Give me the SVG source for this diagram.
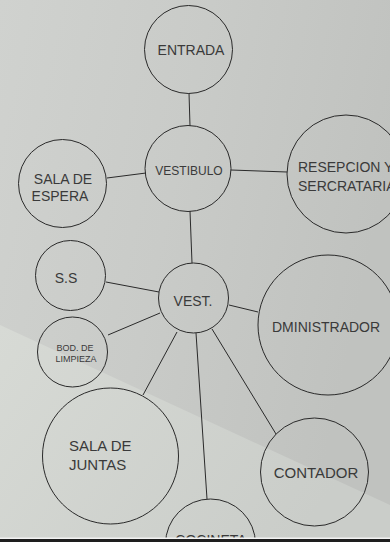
<svg xmlns="http://www.w3.org/2000/svg" width="390" height="542" viewBox="0 0 390 542">
<defs>
<linearGradient id="bg" x1="0" y1="0" x2="1" y2="0.3">
<stop offset="0" stop-color="#d0d2cf"/>
<stop offset="0.5" stop-color="#c9cbc8"/>
<stop offset="1" stop-color="#c0c2bf"/>
</linearGradient>
<linearGradient id="lt" x1="0" y1="0" x2="1" y2="0.4">
<stop offset="0" stop-color="#d7dad5"/>
<stop offset="1" stop-color="#cacdc9"/>
</linearGradient>
</defs>
<style>
.n{fill:none;stroke:#2a2a2a;stroke-width:1}
.c{stroke:#2a2a2a;stroke-width:1;fill:none}
text{font-family:"Liberation Sans",Arial,sans-serif;fill:#3a3a3a;text-anchor:middle}
.t{font-size:14px}
.s{font-size:12px}
.x{font-size:9px}
.l{font-size:15px}
</style>
<rect width="390" height="542" fill="url(#bg)"/>
<polygon points="0,325 390,505 390,538 0,538" fill="url(#lt)"/>
<g id="connectors">
<line class="c" x1="189" y1="93" x2="190" y2="126"/>
<line class="c" x1="107" y1="178" x2="146" y2="173"/>
<line class="c" x1="231" y1="170" x2="287" y2="172"/>
<line class="c" x1="190" y1="211" x2="192" y2="263"/>
<line class="c" x1="106" y1="282" x2="159" y2="292"/>
<line class="c" x1="108" y1="335" x2="160" y2="313" stroke-width="0.6"/>
<line class="c" x1="229" y1="305" x2="258" y2="312"/>
<line class="c" x1="177" y1="332" x2="143" y2="395"/>
<line class="c" x1="196" y1="333" x2="207" y2="499"/>
<line class="c" x1="212" y1="329" x2="276" y2="434"/>
</g>
<g id="entrada"><circle class="n" cx="188.5" cy="49.5" r="44"/><text class="t" x="191" y="55">ENTRADA</text></g>
<g id="vestibulo"><circle class="n" cx="188" cy="168.5" r="43"/><text class="s" x="189" y="175">VESTIBULO</text></g>
<g id="sala-espera"><circle class="n" cx="62.5" cy="183.5" r="44"/><text class="t" x="63" y="184">SALA DE</text><text class="t" x="60" y="201">ESPERA</text></g>
<g id="recepcion"><circle class="n" cx="346" cy="174" r="59"/><text class="t" x="298" y="172" style="text-anchor:start">RESEPCION Y</text><text class="t" x="298" y="191" style="text-anchor:start">SERCRATARIA</text></g>
<g id="ss"><circle class="n" cx="70.5" cy="275.5" r="35"/><text class="t" x="66" y="283">S.S</text></g>
<g id="vest"><circle class="n" cx="193.5" cy="298" r="35"/><text class="t" x="193" y="306">VEST.</text></g>
<g id="bodega"><circle class="n" cx="72.5" cy="352" r="35"/><text class="x" x="75" y="351">BOD. DE</text><text class="x" x="76" y="362">LIMPIEZA</text></g>
<g id="administrador"><circle class="n" cx="328" cy="325" r="70"/><text class="t" x="272" y="332" style="text-anchor:start">DMINISTRADOR</text></g>
<g id="sala-juntas"><circle class="n" cx="110.5" cy="456" r="68"/><text class="l" x="69" y="451" style="text-anchor:start">SALA DE</text><text class="l" x="69" y="470" style="text-anchor:start">JUNTAS</text></g>
<g id="contador"><circle class="n" cx="314.5" cy="472" r="54"/><text class="l" x="316" y="478">CONTADOR</text></g>
<g id="cocineta"><circle class="n" cx="210.5" cy="544" r="45"/><text class="t" x="211" y="545">COCINETA</text></g>
<rect x="0" y="537.5" width="390" height="1.5" fill="#f2f2f2"/>
<rect x="0" y="539" width="390" height="3" fill="#1e1e1e"/>
</svg>
